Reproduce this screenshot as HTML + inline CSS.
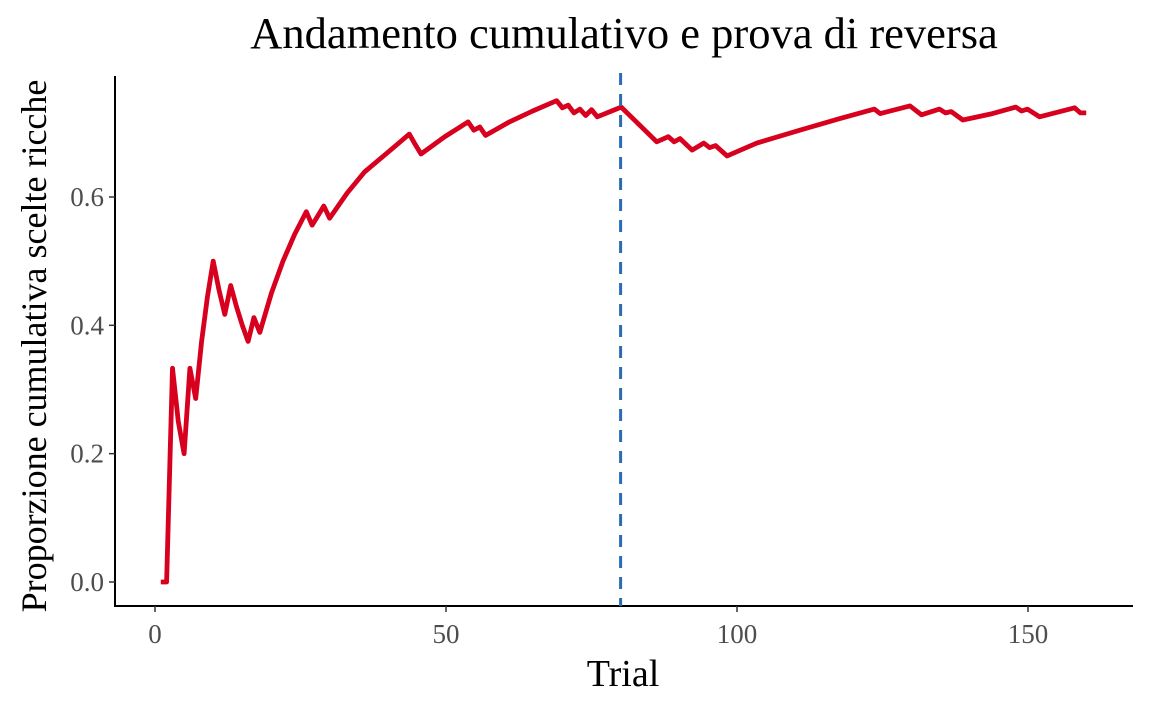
<!DOCTYPE html>
<html><head><meta charset="utf-8"><style>
body{margin:0;background:#fff;}
svg{display:block;font-family:"Liberation Serif",serif;}
</style></head><body>
<svg id="chart" width="1152" height="711" viewBox="0 0 1152 711" xmlns="http://www.w3.org/2000/svg">
<text x="624" y="48" text-anchor="middle" font-size="44.5" fill="#000">Andamento cumulativo e prova di reversa</text>
<text transform="translate(46,346) rotate(-90)" text-anchor="middle" font-size="36" fill="#000">Proporzione cumulativa scelte ricche</text>
<text x="623" y="686" text-anchor="middle" font-size="38" fill="#000">Trial</text>
<g id="axes"></g>
<g id="marks"></g>
</svg>
<script>
const xTicks = [0, 50, 100, 150];
const yTicks = [0.0, 0.2, 0.4, 0.6];
const yTickLabels = ["0.0", "0.2", "0.4", "0.6"];
const reversalTrial = 80;
const trials = [1,2,3,4,5,6,7,8,9,10,11,12,13,14,15,16,17,18,20,22,24,26,27,28,29,30,33,36,40.7,43.7,44.7,45.7,49.8,53.8,54.8,55.8,56.8,60.9,64.9,69,70,71,72,73,74,75,76,80.1,86.2,88.2,89.2,90.2,92.3,94.3,95.3,96.3,98.3,103.4,111.5,117.6,123.6,124.6,129.7,131.7,134.8,135.8,136.8,138.8,143.9,147.9,148.9,149.9,152,155,158,159,160];
const props = [0,0,0.333,0.25,0.2,0.333,0.286,0.375,0.444,0.5,0.455,0.417,0.462,0.429,0.4,0.375,0.412,0.389,0.45,0.5,0.542,0.577,0.556,0.571,0.586,0.567,0.606,0.639,0.675,0.698,0.682,0.667,0.694,0.717,0.704,0.709,0.696,0.717,0.734,0.75,0.739,0.743,0.731,0.737,0.727,0.736,0.725,0.740,0.686,0.694,0.686,0.691,0.673,0.684,0.677,0.680,0.664,0.684,0.706,0.722,0.737,0.730,0.742,0.728,0.737,0.731,0.733,0.720,0.730,0.740,0.734,0.737,0.725,0.732,0.739,0.731,0.731];

const xScale = t => 155 + t * 5.82;
const yScale = v => 582 - v * 641.7;
const NS = "http://www.w3.org/2000/svg";
const axes = document.getElementById('axes');
const marks = document.getElementById('marks');
function mk(tag, attrs, parent){const e=document.createElementNS(NS,tag);for(const k in attrs)e.setAttribute(k,attrs[k]);parent.appendChild(e);return e;}

const xl = mk('line',{x1:115,y1:606,x2:1133,y2:606,stroke:'#000','stroke-width':2},axes);


const yl = mk('line',{x1:115,y1:76,x2:115,y2:607,stroke:'#000','stroke-width':2},axes);



xTicks.forEach(t=>{
  const x=xScale(t);
  const tk=mk('line',{x1:x,y1:606,x2:x,y2:612,stroke:'#333','stroke-width':1.5},axes);
  
  
  const lb=mk('text',{x:x,y:643,'text-anchor':'middle','font-size':27,fill:'#4d4d4d'},axes);
  lb.textContent=String(t);
  
  
});
yTicks.forEach((v,i)=>{
  const y=yScale(v);
  const tk=mk('line',{x1:109,y1:y,x2:115,y2:y,stroke:'#333','stroke-width':1.5},axes);
  
  
  const lb=mk('text',{x:104,y:y+9,'text-anchor':'end','font-size':27,fill:'#4d4d4d'},axes);
  lb.textContent=yTickLabels[i];
  
  
});

const d = trials.map((t,i)=>(i?'L':'M')+xScale(t).toFixed(1)+','+yScale(props[i]).toFixed(1)).join(' ');
const path = mk('path',{d:d,fill:'none',stroke:'#d7001e','stroke-width':4.8,'stroke-linejoin':'round'},marks);



const rx = xScale(reversalTrial);
const rl = mk('line',{x1:rx,y1:73,x2:rx,y2:606,stroke:'#2b6cb0','stroke-width':3,'stroke-dasharray':'12,9'},marks);


</script>
</body></html>
